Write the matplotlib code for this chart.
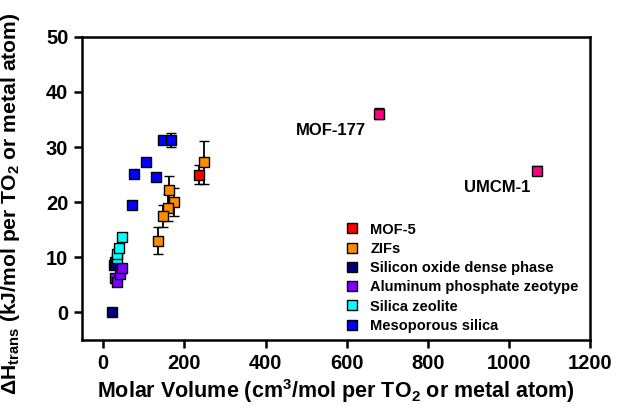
import matplotlib
matplotlib.use("Agg")
import matplotlib.pyplot as plt
from matplotlib.lines import Line2D

plt.rcParams['font.family'] = ['Liberation Sans', 'DejaVu Sans']
plt.rcParams['font.weight'] = 'bold'
plt.rcParams['mathtext.fontset'] = 'custom'
plt.rcParams['mathtext.rm'] = 'Liberation Sans:bold'
plt.rcParams['mathtext.bf'] = 'Liberation Sans:bold'
plt.rcParams['mathtext.it'] = 'Liberation Sans:bold'
plt.rcParams['mathtext.default'] = 'bf'

# data
mof5_x = [237]
mof5_y = [25.0]
mof5_err = [1.7]

zif_x = [247, 163, 175, 160, 146, 135]
zif_y = [27.2, 22.2, 20.0, 19.0, 17.5, 13.0]
zif_err = [3.9, 2.6, 2.5, 2.5, 2.0, 2.5]

sio2_x = [22, 27, 30]
sio2_y = [0.0, 8.6, 9.2]

alpo_x = [28, 33, 40, 45]
alpo_y = [6.2, 5.5, 7.0, 8.0]
alpo_err = [0.8, 0.8, 0.8, 0.8]

zeo_x = [33, 35, 38, 45]
zeo_y = [9.8, 10.6, 11.6, 13.6]

meso_x = [146, 168, 106, 76, 130, 71]
meso_y = [31.3, 31.3, 27.3, 25.1, 24.6, 19.5]
meso_err = [0, 1.3, 0, 0, 0, 0]

mof_big_names = ['MOF-177', 'UMCM-1']
mof_big_x = [679, 1069]
mof_big_y = [36.0, 25.7]
mof_big_err = [1.0, 0.8]

legend_order = ['MOF-5', 'ZIFs', 'Silicon oxide dense phase', 'Aluminum phosphate zeotype',
                'Silica zeolite', 'Mesoporous silica']

fig = plt.figure(figsize=(6.18, 4.09), dpi=100)
ax = fig.add_axes([0.133, 0.169, 0.822, 0.741])

ms = 7.5
kw = dict(fmt='s', ms=ms, mec='black', mew=1.0, ecolor='black',
          elinewidth=1.3, capsize=3.5, capthick=1.3)

ax.errorbar(zif_x, zif_y, yerr=zif_err, color='#FF8C00', label='ZIFs', zorder=3, **kw)
ax.errorbar(mof5_x, mof5_y, yerr=mof5_err, color='#FF0000', label='MOF-5', zorder=3, **kw)
ax.errorbar(sio2_x, sio2_y, color='#00007F', label='Silicon oxide dense phase', zorder=3,
            fmt='s', ms=ms, mec='black', mew=1.0)
ax.errorbar(alpo_x, alpo_y, yerr=alpo_err, color='#7F00FF', label='Aluminum phosphate zeotype',
            zorder=3, **kw)
ax.errorbar(zeo_x, zeo_y, color='#00FFFF', label='Silica zeolite', zorder=3,
            fmt='s', ms=ms, mec='black', mew=1.0)
ax.errorbar(meso_x, meso_y, yerr=meso_err, color='#0000FF', label='Mesoporous silica',
            zorder=3, **kw)
ax.errorbar(mof_big_x, mof_big_y, yerr=mof_big_err, color='#FF0080', zorder=3, **kw)

ax.text(562, 33.0, mof_big_names[0], ha='center', va='center', fontsize=12, fontweight='bold')
ax.text(970, 22.6, mof_big_names[1], ha='center', va='center', fontsize=12, fontweight='bold')

ax.set_xlim(-52, 1200)
ax.set_ylim(-5, 50)
ax.set_xticks(range(0, 1201, 200))
ax.set_yticks(range(0, 51, 10))

for s in ax.spines.values():
    s.set_linewidth(1.8)
ax.tick_params(direction='out', length=6, width=1.8, labelsize=14.5, pad=4)
for lab in ax.get_xticklabels() + ax.get_yticklabels():
    lab.set_fontweight('bold')

ax.set_xlabel(r'Molar Volume (cm$^3$/mol per TO$_2$ or metal atom)', fontsize=15.5,
              fontweight='bold', labelpad=3)
ax.set_ylabel(r'$\Delta$H$_{trans}$ (kJ/mol per TO$_2$ or metal atom)', fontsize=15.2,
              fontweight='bold')
ax.yaxis.set_label_coords(-0.118, 0.45)

handles, labels = ax.get_legend_handles_labels()
hmap = dict(zip(labels, handles))
leg_handles = [Line2D([], [], marker='s', ls='none', ms=7, mec='black', mew=1.0,
                      color=hmap[l][0].get_color()) for l in legend_order]
ax.legend(leg_handles, legend_order, loc='lower left', bbox_to_anchor=(0.49, -0.02),
          frameon=False, handlelength=1.0, handletextpad=0.8,
          labelspacing=0.36, prop={'weight': 'bold', 'size': 10.5})

fig.savefig('out.png', dpi=100)
